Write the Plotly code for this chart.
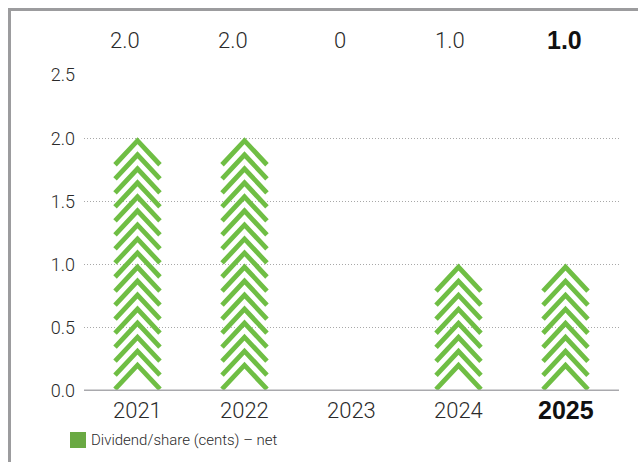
import plotly.graph_objects as go

# Net dividend per share, by financial year
years = ["2021", "2022", "2023", "2024", "2025"]
dividend = [2.0, 2.0, 0.0, 1.0, 1.0]
value_labels = ["2.0", "2.0", "0", "1.0", "1.0"]
y_ticks = [0.0, 0.5, 1.0, 1.5, 2.0, 2.5]

legend_name = "Dividend/share (cents) – net"

CHEVRON_GREEN = "#6fbe44"
LEGEND_GREEN = "#6aa943"
TEXT = "#2a2a2a"
FONT = "Roboto"
BOLD_FONT = "Liberation Sans"

W, H = 638, 462
ML, MR, MT, MB = 84, 19, 75, 71
PW, PH = W - ML - MR, H - MT - MB

# horizontal nudges for the header row of values (px)
header_shift = [-13, -12, -12, -9, -1]


def px_x(px):
    return (px - ML) / PW


def px_y(py):
    return (H - MB - py) / PH


# chevron stack geometry (data units)
half_w = 0.21      # half width of a chevron, in category units
arm_h = 0.19       # vertical drop of each arm
step = 0.111       # vertical spacing between stacked chevrons
tip_pad = 0.02     # keeps the stroke tip at the value line

fig = go.Figure()

for i, v in enumerate(dividend):
    xs, ys = [], []
    top = v - tip_pad
    k = 0
    while v > 0 and top - k * step - arm_h >= -0.01:
        apex = top - k * step
        xs += [i - half_w, i, i + half_w, None]
        ys += [apex - arm_h, apex, apex - arm_h, None]
        k += 1
    fig.add_trace(go.Scatter(
        x=xs, y=ys, mode="lines",
        line=dict(color=CHEVRON_GREEN, width=4.8),
        name=legend_name, showlegend=False, hoverinfo="skip",
    ))

last = len(years) - 1
light = dict(family=FONT, size=22, color=TEXT, weight=300)
bold = dict(family=BOLD_FONT, size=25, color="#111111", weight="bold")

# value labels above each year
for i, lab in enumerate(value_labels):
    fig.add_annotation(
        x=i, y=px_y(40), xref="x", yref="paper", text=lab, showarrow=False,
        xshift=header_shift[i],
        font=bold if i == last else light, xanchor="center", yanchor="middle",
    )

# x category labels
for i, yr in enumerate(years):
    fig.add_annotation(
        x=i, y=px_y(410), xref="x", yref="paper", text=yr, showarrow=False,
        font=bold if i == last else light, xanchor="center", yanchor="middle",
    )

# legend key
fig.add_shape(type="rect", xref="paper", yref="paper",
              x0=px_x(70), x1=px_x(86), y0=px_y(448), y1=px_y(432),
              fillcolor=LEGEND_GREEN, line=dict(width=0))
fig.add_annotation(x=px_x(89), y=px_y(440), xref="paper", yref="paper",
                   text=legend_name, showarrow=False, xanchor="left", yanchor="middle",
                   font=dict(family=FONT, size=15, color=TEXT, weight=300))

# frame lines (top and left)
border = dict(color="#9c9c9e", width=3)
fig.add_shape(type="line", xref="paper", yref="paper",
              x0=px_x(8), x1=px_x(640), y0=px_y(9.5), y1=px_y(9.5), line=border)
fig.add_shape(type="line", xref="paper", yref="paper",
              x0=px_x(9.5), x1=px_x(9.5), y0=px_y(8), y1=px_y(470), line=border)

# baseline
fig.add_shape(type="line", xref="paper", yref="y", x0=0, x1=1, y0=0, y1=0,
              line=dict(color="#a9a9ad", width=3), layer="above")

fig.update_layout(
    width=W, height=H,
    margin=dict(l=ML, r=MR, t=MT, b=MB),
    paper_bgcolor="white", plot_bgcolor="white",
    showlegend=False,
    font=dict(family=FONT, color=TEXT),
    xaxis=dict(
        range=[-0.5, 4.5], showticklabels=False,
        showgrid=False, zeroline=False, showline=False, ticks="",
        fixedrange=True,
    ),
    yaxis=dict(
        range=[0, 2.5], tickvals=y_ticks, ticktext=[f"{t:.1f}" for t in y_ticks],
        showgrid=True, gridcolor="#a8a8a8", griddash="1px,2px", gridwidth=1,
        zeroline=False, showline=False, ticks="",
        tickfont=dict(family=FONT, size=18, color=TEXT, weight=300), ticklabelstandoff=8,
        fixedrange=True,
    ),
)

fig.write_html("out.html")
